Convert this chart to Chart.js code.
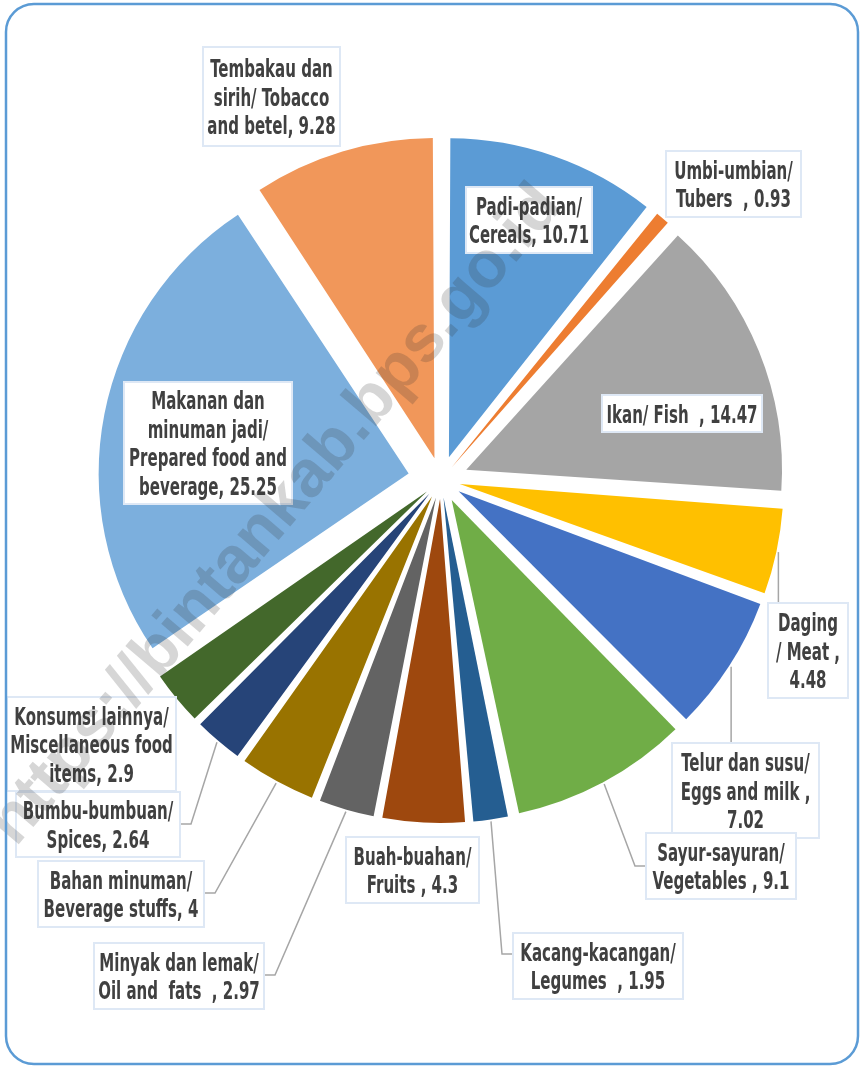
<!DOCTYPE html>
<html>
<head>
<meta charset="utf-8">
<script src="https://cdn.jsdelivr.net/npm/chart.js@4/dist/chart.umd.min.js"></script>
<style>
  html, body { margin: 0; padding: 0; background: #fff; }
  #pie { display: block; }
</style>
</head>
<body>
<canvas id="pie" width="860" height="1066"></canvas>
<script>
// --- data (clockwise from 12 o'clock) ---
const categories = [
  "Padi-padian/ Cereals", "Umbi-umbian/ Tubers", "Ikan/ Fish", "Daging / Meat",
  "Telur dan susu/ Eggs and milk", "Sayur-sayuran/ Vegetables", "Kacang-kacangan/ Legumes",
  "Buah-buahan/ Fruits", "Minyak dan lemak/ Oil and fats", "Bahan minuman/ Beverage stuffs",
  "Bumbu-bumbuan/ Spices", "Konsumsi lainnya/ Miscellaneous food items",
  "Makanan dan minuman jadi/ Prepared food and beverage", "Tembakau dan sirih/ Tobacco and betel"
];
const values = [10.71, 0.93, 14.47, 4.48, 7.02, 9.1, 1.95, 4.3, 2.97, 4, 2.64, 2.9, 25.25, 9.28];

// label text as it wraps in the picture, {v} = value
const labelLines = [
  ["Padi-padian/", "Cereals, {v}"],
  ["Umbi-umbian/", "Tubers  , {v}"],
  ["Ikan/ Fish  , {v}"],
  ["Daging", "/ Meat ,", "{v}"],
  ["Telur dan susu/", "Eggs and milk ,", "{v}"],
  ["Sayur-sayuran/", "Vegetables , {v}"],
  ["Kacang-kacangan/", "Legumes  , {v}"],
  ["Buah-buahan/", "Fruits , {v}"],
  ["Minyak dan lemak/", "Oil and  fats  , {v}"],
  ["Bahan minuman/", "Beverage stuffs, {v}"],
  ["Bumbu-bumbuan/", "Spices, {v}"],
  ["Konsumsi lainnya/", "Miscellaneous food", "items, {v}"],
  ["Makanan dan", "minuman jadi/", "Prepared food and", "beverage, {v}"],
  ["Tembakau dan", "sirih/ Tobacco", "and betel, {v}"]
];

// --- styles / layout ---
const colors = ["#5B9BD5", "#ED7D31", "#A5A5A5", "#FFC000", "#4472C4", "#70AD47", "#255E91",
                "#9E480E", "#636363", "#997300", "#264478", "#43682B", "#7CAFDD", "#F1975A"];
const EXPLODE = 33;      // px each slice is pulled out
const RADIUS = 310;
// label boxes [x, y, w, h]
const labelBoxes = [
  [466, 187, 126, 66], [666, 151, 135, 66], [602, 395, 160, 37], [768, 603, 80, 95],
  [672, 743, 147, 95], [646, 833, 150, 66], [513, 933, 170, 66], [346, 837, 133, 66],
  [94, 943, 170, 66], [38, 861, 166, 66], [16, 792, 164, 65], [7, 697, 169, 94],
  [124, 382, 168, 122], [203, 47, 137, 99]
];
// leader lines: index -> how it meets the box
const leaders = {
  3: { type: "down" }, 4: { type: "down" },
  5: { side: "left", y: 866 }, 6: { side: "left", y: 954 },
  8: { side: "right", y: 975 }, 9: { side: "right", y: 893 }, 10: { side: "right", y: 824 }
};
const FONT_SIZE = 25;
const LINE_H = 28.5;
const FONT = `bold ${FONT_SIZE}px "Liberation Sans Narrow", "DejaVu Sans Condensed", sans-serif`;
const total = values.reduce((a, b) => a + b, 0);

function fmt(v) { return String(v); }

const labelPlugin = {
  id: "labels",
  beforeDraw(chart) {
    const ctx = chart.ctx;
    ctx.save();
    ctx.fillStyle = "#fff";
    ctx.fillRect(0, 0, chart.width, chart.height);
    ctx.restore();
  },
  afterDatasetsDraw(chart) {
    const ctx = chart.ctx;
    const meta = chart.getDatasetMeta(0);

    // leader lines
    ctx.save();
    ctx.strokeStyle = "#A6A6A6";
    ctx.lineWidth = 1.5;
    Object.keys(leaders).forEach((k) => {
      const i = +k;
      const arc = meta.data[i];
      const mid = (arc.startAngle + arc.endAngle) / 2;
      const r = arc.outerRadius + EXPLODE + 2;
      const sx = arc.x + Math.cos(mid) * r;
      const sy = arc.y + Math.sin(mid) * r;
      const [bx, by, bw, bh] = labelBoxes[i];
      const L = leaders[i];
      ctx.beginPath();
      ctx.moveTo(sx, sy);
      if (L.type === "down") {
        ctx.lineTo(sx, by);
      } else {
        const ex = L.side === "left" ? bx : bx + bw;
        const elbow = L.side === "left" ? ex - 11 : ex + 11;
        ctx.lineTo(elbow, L.y);
        ctx.lineTo(ex, L.y);
      }
      ctx.stroke();
    });
    ctx.restore();

    // boxes + text
    ctx.save();
    ctx.font = FONT;
    const squeeze = 106 / ctx.measureText("Padi-padian/").width;
    labelBoxes.forEach(([bx, by, bw, bh], i) => {
      ctx.fillStyle = "#fff";
      ctx.fillRect(bx, by, bw, bh);
      ctx.strokeStyle = "#DEE8F5";
      ctx.lineWidth = 2;
      ctx.strokeRect(bx, by, bw, bh);
      const lines = labelLines[i].map((s) => s.replace("{v}", fmt(values[i])));
      const cx = bx + bw / 2;
      const cy = by + bh / 2;
      ctx.fillStyle = "#404040";
      ctx.textAlign = "center";
      ctx.textBaseline = "alphabetic";
      lines.forEach((t, j) => {
        const ly = cy + (j - (lines.length - 1) / 2) * LINE_H + FONT_SIZE * 0.36;
        const w = ctx.measureText(t).width;
        const s = Math.min(squeeze, (bw - 6) / w);
        ctx.save();
        ctx.translate(cx, ly);
        ctx.scale(s, 1);
        ctx.fillText(t, 0, 0);
        ctx.restore();
      });
    });
    ctx.restore();

    // watermark
    ctx.save();
    ctx.translate(2, 836);
    ctx.rotate(-49.5 * Math.PI / 180);
    ctx.font = 'bold 66px "Liberation Sans", Arial, sans-serif';
    ctx.fillStyle = "rgba(50,50,50,0.2)";
    ctx.textAlign = "left";
    ctx.textBaseline = "middle";
    ctx.fillText("https://bintankab.bps.go.id", 0, 0);
    ctx.restore();

    // frame
    ctx.save();
    ctx.strokeStyle = "#5B9BD5";
    ctx.lineWidth = 2.5;
    ctx.beginPath();
    ctx.roundRect(6, 4, 852, 1060, 28);
    ctx.stroke();
    ctx.restore();
  }
};

new Chart(document.getElementById("pie"), {
  type: "pie",
  data: {
    labels: categories,
    datasets: [{
      data: values,
      backgroundColor: colors,
      borderWidth: 0,
      radius: RADIUS,
      clip: false,
      // Chart.js moves an arc by offset/4 * (1 + fix); solve for a uniform pull
      offset: (c) => {
        const circ = values[c.dataIndex] / total * Math.PI * 2;
        const fix = 1 - Math.sin(Math.min(Math.PI, circ));
        return 4 * EXPLODE / (1 + fix);
      },
      hoverOffset: 0
    }]
  },
  options: {
    responsive: false,
    animation: false,
    devicePixelRatio: 1,
    layout: { padding: { left: 22, right: 0, top: 0, bottom: 106 } },
    plugins: { legend: { display: false }, tooltip: { enabled: false } }
  },
  plugins: [labelPlugin]
});
</script>
</body>
</html>
